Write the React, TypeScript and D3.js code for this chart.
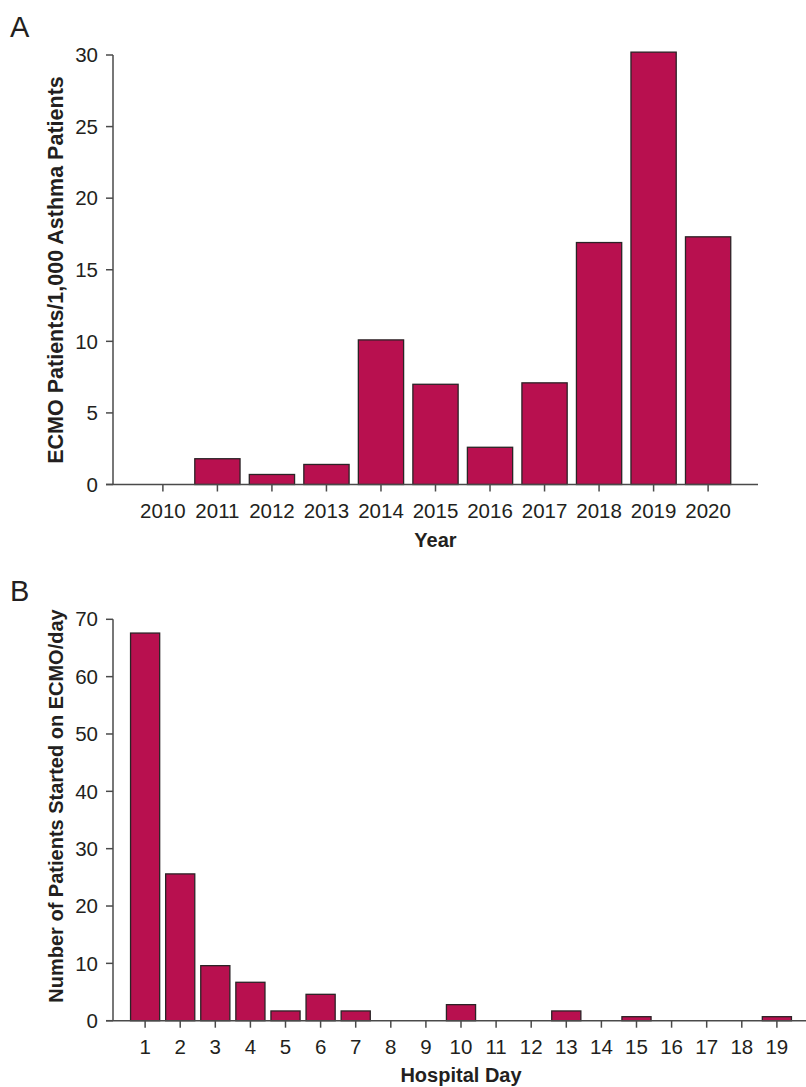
import React from "react";
import * as d3 from "d3";

const yearsA = ["2010","2011","2012","2013","2014","2015","2016","2017","2018","2019","2020"];
const valuesA = [0, 1.8, 0.7, 1.4, 10.1, 7.0, 2.6, 7.1, 16.9, 30.2, 17.3];
const ticksA = [0, 5, 10, 15, 20, 25, 30];

const daysB = ["1","2","3","4","5","6","7","8","9","10","11","12","13","14","15","16","17","18","19"];
const valuesB = [67.6, 25.6, 9.6, 6.7, 1.7, 4.6, 1.7, 0, 0, 2.8, 0, 0, 1.7, 0, 0.7, 0, 0, 0, 0.7];
const ticksB = [0, 10, 20, 30, 40, 50, 60, 70];

const BAR = "#B8104F";
const BAR_STROKE = "#2b2326";
const AXIS = "#4a4a4a";
const TEXT = "#231F20";
const FONT = "'Liberation Sans', Arial, Helvetica, sans-serif";

type PanelProps = {
  cats: string[];
  vals: number[];
  ticks: number[];
  yMax: number;
  x0: number; x1: number;
  yTop: number; yBot: number;
  label: string; labelY: number;
  xTitle: string; xTitleY: number;
  yTitle: string; yTitleCenter: number; yTitleSize: number;
  tickLabelY: number;
};

function Panel(p: PanelProps) {
  const x = d3.scaleBand<string>().domain(p.cats).range([p.x0, p.x1]).paddingInner(0.17).paddingOuter(0.5);
  const y = d3.scaleLinear().domain([0, p.yMax]).range([p.yBot, p.yTop]);
  const axisX = p.x0;
  return (
    <g>
      <text x={10} y={p.labelY} fontSize={29} fill={TEXT} fontFamily={FONT}>{p.label}</text>
      {p.cats.map((c, i) => p.vals[i] > 0 ? (
        <rect key={c} x={x(c)} y={y(p.vals[i])} width={x.bandwidth()} height={y(0) - y(p.vals[i])}
          fill={BAR} stroke={BAR_STROKE} strokeWidth={1.3} />
      ) : null)}
      <line x1={axisX} x2={axisX} y1={y(p.yMax)} y2={y(0)} stroke={AXIS} strokeWidth={1.5} />
      {p.ticks.map(t => (
        <g key={t}>
          <line x1={axisX - 7} x2={axisX} y1={y(t)} y2={y(t)} stroke={AXIS} strokeWidth={1.5} />
          <text x={axisX - 15} y={y(t)} dy="0.35em" textAnchor="end" fontSize={20.5} fill={TEXT} fontFamily={FONT}>{t}</text>
        </g>
      ))}
      <line x1={axisX - 7} x2={p.x1} y1={y(0)} y2={y(0)} stroke={AXIS} strokeWidth={1.5} />
      {p.cats.map(c => {
        const cx = (x(c) as number) + x.bandwidth() / 2;
        return (
          <g key={c}>
            <line x1={cx} x2={cx} y1={y(0)} y2={y(0) + 7} stroke={AXIS} strokeWidth={1.5} />
            <text x={cx} y={p.tickLabelY} textAnchor="middle" fontSize={20.5} fill={TEXT} fontFamily={FONT}>{c}</text>
          </g>
        );
      })}
      <text x={(p.x0 + p.x1) / 2} y={p.xTitleY} textAnchor="middle" fontSize={20} fontWeight="bold" fill={TEXT} fontFamily={FONT}>{p.xTitle}</text>
      <text transform={`translate(63,${p.yTitleCenter}) rotate(-90)`} textAnchor="middle" fontSize={p.yTitleSize} fontWeight="bold" fill={TEXT} fontFamily={FONT}>{p.yTitle}</text>
    </g>
  );
}

export default function App() {
  return (
    <svg width={806} height={1087} style={{ position: "absolute", left: 0, top: 0, background: "#fff" }}>
      <Panel cats={yearsA} vals={valuesA} ticks={ticksA} yMax={30}
        x0={113} x1={758} yTop={55} yBot={484.5}
        label="A" labelY={37}
        xTitle="Year" xTitleY={547}
        yTitle="ECMO Patients/1,000 Asthma Patients" yTitleCenter={270} yTitleSize={21.5}
        tickLabelY={518} />
      <Panel cats={daysB} vals={valuesB} ticks={ticksB} yMax={70}
        x0={113} x1={809} yTop={619.3} yBot={1020.7}
        label="B" labelY={601}
        xTitle="Hospital Day" xTitleY={1082}
        yTitle="Number of Patients Started on ECMO/day" yTitleCenter={806} yTitleSize={20}
        tickLabelY={1054} />
    </svg>
  );
}
